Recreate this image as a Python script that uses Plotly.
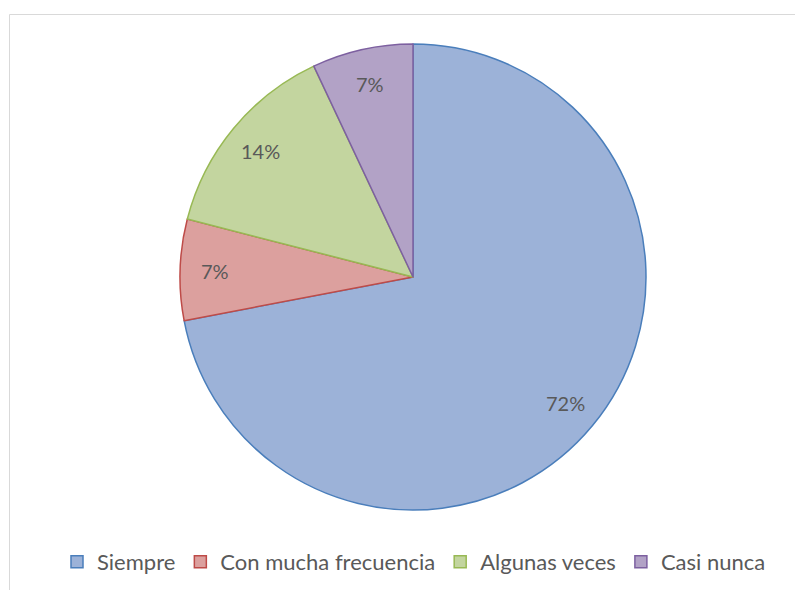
import math
import plotly.graph_objects as go

categories = ["Siempre", "Con mucha frecuencia", "Algunas veces", "Casi nunca"]
values = [72, 7, 14, 7]
fill_colors = ["#9CB2D8", "#DCA09E", "#C3D59F", "#B2A2C6"]
line_colors = ["#4A7EBB", "#BE4B48", "#98B954", "#7D60A0"]

W, H = 803, 590
OFF = 8  # page body margin
cx, cy, r = 413 - OFF, 277 - OFF, 233
label_frac = 0.85
FONT = "Lato, Carlito, Liberation Sans, sans-serif"

fig = go.Figure(go.Pie(
    labels=categories,
    values=values,
    sort=False,
    direction="clockwise",
    rotation=0,
    marker=dict(colors=fill_colors, line=dict(color=line_colors, width=1.5)),
    textinfo="none",
    hoverinfo="label+percent",
    domain=dict(x=[(cx - r) / W, (cx + r) / W], y=[1 - (cy + r) / H, 1 - (cy - r) / H]),
))

# percentage labels placed at each slice's mid-angle
total = sum(values)
annotations = []
cum = 0
for v in values:
    mid = (cum + v / 2) / total * 2 * math.pi
    cum += v
    px = cx + label_frac * r * math.sin(mid)
    py = cy - label_frac * r * math.cos(mid)
    annotations.append(dict(
        x=px / W, y=1 - py / H, xref="paper", yref="paper",
        text=f"{round(v / total * 100)}%", showarrow=False,
        font=dict(family=FONT, size=20, color="#595959"),
        xanchor="center", yanchor="middle",
    ))

fig.update_layout(
    width=W, height=H,
    margin=dict(l=0, r=0, t=0, b=0),
    paper_bgcolor="white",
    plot_bgcolor="white",
    showlegend=True,
    annotations=annotations,
    legend=dict(
        orientation="h",
        x=(414 - OFF) / W, xanchor="center",
        y=1 - (562 - OFF) / H, yanchor="middle",
        font=dict(family=FONT, size=22, color="#595959"),
        itemwidth=30,
        tracegroupgap=0,
    ),
    shapes=[dict(
        type="rect", xref="paper", yref="paper",
        x0=(9.5 - OFF) / W, x1=1.02, y0=-0.05, y1=1 - (14.5 - OFF) / H,
        line=dict(color="#D9D9D9", width=1),
        fillcolor="rgba(0,0,0,0)", layer="below",
    )],
)

fig.write_html("out.html")
